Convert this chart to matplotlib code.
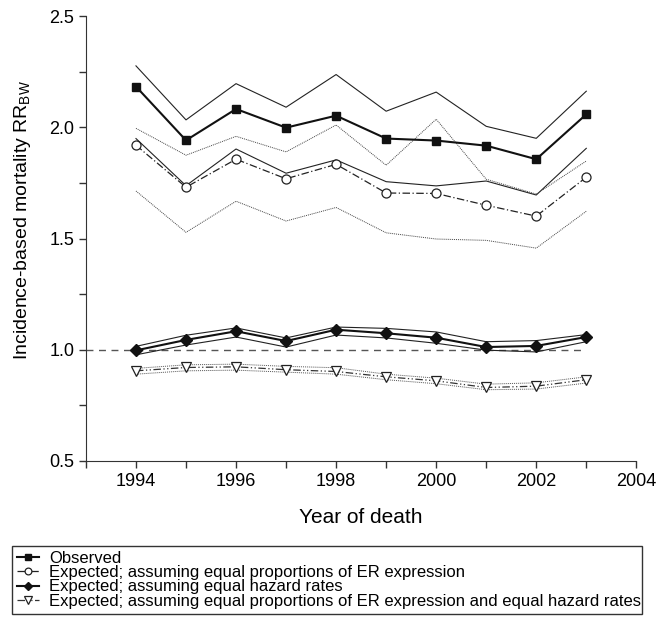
import matplotlib
matplotlib.use("Agg")
import matplotlib.pyplot as plt
import numpy as np

plt.rcParams['font.family'] = ['Liberation Sans', 'DejaVu Sans']
plt.rcParams['mathtext.fontset'] = 'custom'
plt.rcParams['mathtext.rm'] = 'Liberation Sans'
plt.rcParams['mathtext.it'] = 'Liberation Sans'

years = [1994, 1995, 1996, 1997, 1998, 1999, 2000, 2001, 2002, 2003]

# Observed
obs = [2.184, 1.942, 2.083, 1.999, 2.053, 1.950, 1.941, 1.918, 1.857, 2.059]
obs_hi = [2.277, 2.034, 2.197, 2.091, 2.238, 2.073, 2.159, 2.005, 1.951, 2.163]
obs_lo = [1.950, 1.738, 1.903, 1.794, 1.854, 1.756, 1.737, 1.759, 1.696, 1.906]

# Expected; equal proportions of ER expression
er = [1.920, 1.731, 1.857, 1.769, 1.834, 1.705, 1.703, 1.650, 1.601, 1.776]
er_hi = [1.996, 1.875, 1.960, 1.890, 2.011, 1.830, 2.037, 1.767, 1.700, 1.849]
er_lo = [1.714, 1.528, 1.668, 1.579, 1.640, 1.526, 1.498, 1.492, 1.457, 1.623]

# Expected; equal hazard rates
hz = [0.997, 1.044, 1.083, 1.039, 1.090, 1.074, 1.054, 1.012, 1.017, 1.057]
hz_hi = [1.015, 1.065, 1.098, 1.053, 1.102, 1.096, 1.080, 1.036, 1.041, 1.068]
hz_lo = [0.977, 1.021, 1.057, 1.012, 1.066, 1.053, 1.029, 0.998, 0.990, 1.036]

# Expected; equal ER proportions and equal hazard rates
both = [0.905, 0.920, 0.923, 0.910, 0.902, 0.878, 0.860, 0.830, 0.836, 0.865]
both_hi = [0.916, 0.932, 0.935, 0.925, 0.919, 0.890, 0.872, 0.845, 0.851, 0.878]
both_lo = [0.890, 0.905, 0.908, 0.899, 0.890, 0.865, 0.847, 0.820, 0.823, 0.850]

labels = ["Observed",
          "Expected; assuming equal proportions of ER expression",
          "Expected; assuming equal hazard rates",
          "Expected; assuming equal proportions of ER expression and equal hazard rates"]

fig = plt.figure(figsize=(6.56, 6.27), dpi=100)
ax = fig.add_axes([0.131, 0.265, 0.839, 0.709])

ax.plot([1993, 2003], [1.0, 1.0], color='#555555', ls=(0, (5, 4)), lw=1.0)

# confidence bands
ax.plot(years, obs_hi, color='#222222', lw=0.8)
ax.plot(years, obs_lo, color='#222222', lw=0.8)
ax.plot(years, er_hi, color='#444444', lw=0.7, ls=(0, (1, 1)))
ax.plot(years, er_lo, color='#444444', lw=0.7, ls=(0, (1, 1)))
ax.plot(years, hz_hi, color='#222222', lw=0.8)
ax.plot(years, hz_lo, color='#222222', lw=0.8)
ax.plot(years, both_hi, color='#555555', lw=0.7, ls=(0, (1, 1)))
ax.plot(years, both_lo, color='#555555', lw=0.7, ls=(0, (1, 1)))

l1, = ax.plot(years, obs, color='#111111', lw=1.5, marker='s', ms=6,
              mfc='#111111', mec='#111111', label=labels[0])
l2, = ax.plot(years, er, color='#222222', lw=0.9, ls=(0, (6, 2, 1, 2)),
              marker='o', ms=6.5, mfc='white', mec='#222222', mew=0.9, label=labels[1])
l3, = ax.plot(years, hz, color='#111111', lw=1.5, marker='D', ms=6,
              mfc='#111111', mec='#111111', label=labels[2])
l4, = ax.plot(years, both, color='#333333', lw=0.9, ls=(0, (6, 2, 1, 2, 1, 2)),
              marker='v', ms=7, mfc='white', mec='#222222', mew=0.9, label=labels[3])

ax.set_xlim(1993, 2004)
ax.set_ylim(0.5, 2.5)
ax.set_xticks([1994, 1996, 1998, 2000, 2002, 2004])
ax.set_xticks(range(1993, 2005), minor=True)
ax.set_yticks([0.5, 1.0, 1.5, 2.0, 2.5])
ax.set_yticks(np.arange(0.5, 2.51, 0.25), minor=True)
ax.set_yticklabels(['0.5', '1.0', '1.5', '2.0', '2.5'])
ax.tick_params(which='both', direction='out', length=5, width=1, color='#333333',
               labelsize=13)
ax.spines['top'].set_visible(False)
ax.spines['right'].set_visible(False)
ax.spines['left'].set_color('#333333')
ax.spines['bottom'].set_color('#333333')
ax.set_xlabel("Year of death", fontsize=15, labelpad=13)
ax.set_ylabel(r"Incidence-based mortality RR$_{\mathrm{BW}}$", fontsize=14)
ax.yaxis.set_label_coords(-0.097, 0.542)

leg = fig.legend(handles=[l1, l2, l3, l4], loc='lower left',
                 bbox_to_anchor=(0.006, 0.008, 0.986, 0.133), mode='expand',
                 fontsize=12, handlelength=1.3, handletextpad=0.6,
                 labelspacing=-0.05, borderpad=0.3, fancybox=False,
                 edgecolor='#333333', framealpha=1, markerscale=0.75)
leg.get_frame().set_linewidth(1.0)

fig.savefig("out.png", dpi=100)
